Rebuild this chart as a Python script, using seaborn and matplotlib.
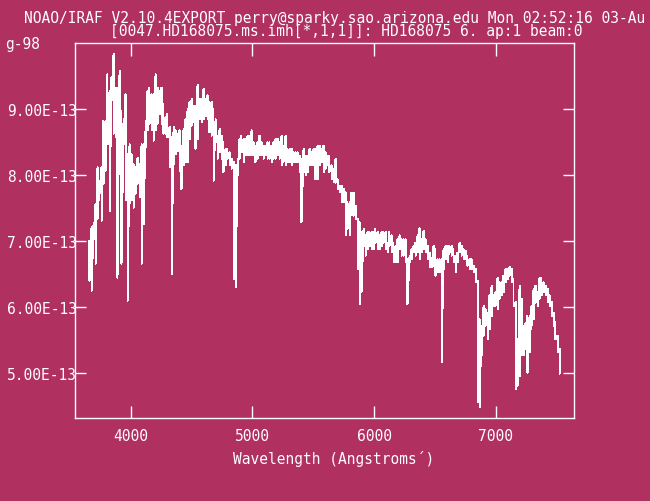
import numpy as np
import pandas as pd
import seaborn as sns
import matplotlib.pyplot as plt
from matplotlib.ticker import FormatStrFormatter

# spectrum: one column = wavelength, highest and lowest flux (1e-13 units)
wave = [
    3662, 3679, 3695, 3712, 3728, 3745, 3761, 3777, 3794, 3810,
    3827, 3843, 3860, 3876, 3892, 3909, 3925, 3942, 3958, 3975,
    3991, 4008, 4024, 4040, 4057, 4073, 4090, 4106, 4123, 4139,
    4155, 4172, 4188, 4205, 4221, 4238, 4254, 4270, 4287, 4303,
    4320, 4336, 4353, 4369, 4386, 4402, 4418, 4435, 4451, 4468,
    4484, 4501, 4517, 4533, 4550, 4566, 4583, 4599, 4616, 4632,
    4648, 4665, 4681, 4698, 4714, 4731, 4747, 4763, 4780, 4796,
    4813, 4829, 4846, 4862, 4879, 4895, 4911, 4928, 4944, 4961,
    4977, 4994, 5010, 5026, 5043, 5059, 5076, 5092, 5109, 5125,
    5141, 5158, 5174, 5191, 5207, 5224, 5240, 5256, 5273, 5289,
    5306, 5322, 5339, 5355, 5372, 5388, 5404, 5421, 5437, 5454,
    5470, 5487, 5503, 5519, 5536, 5552, 5569, 5585, 5602, 5618,
    5634, 5651, 5667, 5684, 5700, 5717, 5733, 5750, 5766, 5782,
    5799, 5815, 5832, 5848, 5865, 5881, 5897, 5914, 5930, 5947,
    5963, 5980, 5996, 6012, 6029, 6045, 6062, 6078, 6095, 6111,
    6127, 6144, 6160, 6177, 6193, 6210, 6226, 6242, 6259, 6275,
    6292, 6308, 6325, 6341, 6358, 6374, 6390, 6407, 6423, 6440,
    6456, 6473, 6489, 6505, 6522, 6538, 6555, 6571, 6588, 6604,
    6620, 6637, 6653, 6670, 6686, 6703, 6719, 6736, 6752, 6768,
    6785, 6801, 6818, 6834, 6851, 6867, 6883, 6900, 6916, 6933,
    6949, 6966, 6982, 6998, 7015, 7031, 7048, 7064, 7081, 7097,
    7114, 7130, 7146, 7163, 7179, 7196, 7212, 7229, 7245, 7261,
    7278, 7294, 7311, 7327, 7344, 7360, 7376, 7393, 7409, 7426,
    7442, 7459, 7475, 7491, 7508, 7524,
]

flux_hi = [
    7.01, 7.21, 7.24, 7.57, 8.12, 7.92, 8.12, 8.83, 8.83, 9.53,
    9.28, 9.49, 9.84, 9.33, 9.33, 9.58, 8.98, 8.85, 9.23, 8.32,
    8.47, 8.32, 8.17, 8.12, 8.27, 8.17, 8.47, 8.47, 8.73, 9.28,
    9.33, 9.23, 9.23, 9.53, 9.33, 9.28, 9.33, 9.08, 8.88, 8.93,
    8.73, 8.58, 8.73, 8.68, 8.63, 8.68, 8.45, 8.70, 8.85, 9.00,
    9.11, 9.16, 9.05, 9.05, 9.37, 9.16, 9.16, 9.31, 9.16, 9.21,
    9.11, 9.11, 9.00, 8.85, 8.60, 8.70, 8.60, 8.50, 8.40, 8.40,
    8.35, 8.25, 8.20, 8.15, 8.25, 8.55, 8.60, 8.55, 8.55, 8.60,
    8.60, 8.68, 8.50, 8.45, 8.50, 8.60, 8.50, 8.45, 8.45, 8.50,
    8.50, 8.45, 8.50, 8.55, 8.55, 8.50, 8.60, 8.45, 8.60, 8.40,
    8.40, 8.40, 8.35, 8.35, 8.35, 8.30, 8.25, 8.40, 8.30, 8.30,
    8.40, 8.35, 8.40, 8.40, 8.45, 8.45, 8.40, 8.45, 8.35, 8.30,
    8.30, 8.15, 8.10, 8.25, 7.94, 7.84, 7.84, 7.79, 7.74, 7.59,
    7.59, 7.74, 7.74, 7.54, 7.34, 7.29, 7.14, 7.19, 7.09, 7.14,
    7.14, 7.14, 7.14, 7.19, 7.14, 7.09, 7.14, 7.14, 7.14, 6.98,
    7.14, 7.09, 6.98, 6.93, 7.03, 7.09, 7.03, 7.03, 7.03, 6.73,
    6.78, 6.88, 6.93, 6.98, 7.09, 7.20, 7.03, 7.16, 7.03, 6.93,
    6.83, 6.73, 6.93, 6.88, 6.73, 6.73, 6.73, 6.88, 6.93, 6.93,
    6.93, 6.93, 6.88, 6.78, 6.83, 6.98, 6.93, 6.88, 6.86, 6.78,
    6.73, 6.73, 6.63, 6.58, 6.40, 5.82, 5.72, 6.02, 5.97, 5.92,
    6.18, 6.33, 6.18, 6.23, 6.45, 6.38, 6.38, 6.48, 6.58, 6.58,
    6.61, 6.58, 6.43, 6.08, 5.17, 6.33, 6.13, 5.72, 5.77, 5.87,
    5.87, 6.02, 6.28, 6.33, 6.23, 6.45, 6.45, 6.38, 6.33, 6.28,
    6.18, 6.08, 5.92, 5.77, 5.57, 5.37,
]

flux_lo = [
    6.40, 6.25, 7.03, 6.66, 7.34, 7.72, 7.31, 7.87, 8.07, 8.47,
    7.46, 9.13, 8.63, 8.58, 6.45, 8.58, 6.66, 8.47, 7.62, 6.10,
    7.57, 7.62, 7.51, 7.72, 7.87, 7.67, 6.66, 7.26, 8.42, 8.68,
    8.78, 8.68, 8.52, 8.68, 8.78, 8.93, 8.78, 8.63, 8.63, 8.58,
    8.12, 6.50, 8.17, 8.32, 8.37, 8.07, 7.79, 8.15, 8.20, 8.20,
    8.55, 8.75, 8.80, 8.40, 8.55, 8.85, 8.80, 8.85, 8.90, 8.85,
    8.65, 8.60, 7.92, 8.50, 8.25, 8.35, 8.25, 8.05, 8.15, 8.25,
    8.15, 8.10, 6.43, 6.30, 8.00, 8.25, 8.35, 8.20, 8.30, 8.30,
    8.30, 8.30, 8.30, 8.20, 8.25, 8.30, 8.30, 8.25, 8.30, 8.25,
    8.25, 8.20, 8.25, 8.25, 8.30, 8.25, 8.15, 8.20, 8.15, 8.20,
    8.20, 8.15, 8.20, 8.20, 8.20, 8.05, 7.29, 8.05, 8.00, 8.05,
    8.15, 8.15, 8.15, 7.94, 7.94, 8.15, 8.20, 8.05, 8.10, 8.15,
    8.05, 7.94, 7.89, 7.89, 7.79, 7.74, 7.59, 7.59, 7.09, 7.19,
    7.09, 7.39, 7.39, 7.34, 6.58, 6.05, 6.23, 6.93, 6.78, 6.88,
    6.93, 6.88, 6.88, 6.98, 6.88, 6.88, 6.93, 6.98, 6.88, 6.83,
    6.93, 6.83, 6.68, 6.68, 6.68, 6.88, 6.78, 6.78, 6.68, 6.05,
    6.68, 6.73, 6.83, 6.78, 6.83, 6.73, 6.83, 6.88, 6.83, 6.73,
    6.61, 6.61, 6.63, 6.48, 6.53, 6.53, 5.17, 6.58, 6.73, 6.68,
    6.83, 6.78, 6.68, 6.53, 6.68, 6.83, 6.78, 6.73, 6.73, 6.63,
    6.58, 6.58, 6.53, 6.38, 4.56, 4.49, 5.27, 5.57, 5.72, 5.52,
    5.67, 5.87, 6.02, 6.02, 5.97, 6.13, 6.18, 6.23, 6.38, 6.43,
    6.48, 6.38, 6.02, 4.76, 4.81, 4.96, 5.27, 5.27, 5.37, 5.01,
    5.32, 5.72, 5.82, 6.08, 6.02, 6.13, 6.18, 6.23, 6.18, 6.08,
    6.02, 5.87, 5.72, 5.52, 5.32, 4.99,
]

x_ticks = [4000, 5000, 6000, 7000]
y_ticks = [5e-13, 6e-13, 7e-13, 8e-13, 9e-13]

header_1 = "NOAO/IRAF V2.10.4EXPORT perry@sparky.sao.arizona.edu Mon 02:52:16 03-Au"
header_2 = "[0047.HD168075.ms.imh[*,1,1]]: HD168075 6. ap:1 beam:0"
header_3 = "g-98"
x_title = "Wavelength (Angstroms\u00b4)"

BG = '#B03060'
FG = 'white'
FS = 10.45

# interleave high/low of each column so the trace zigzags like the original
df = pd.DataFrame({
    'wave': np.repeat(np.array(wave, dtype=float), 2),
    'flux': np.column_stack([flux_hi, flux_lo]).ravel() * 1e-13,
})

sns.set_theme(style='ticks')
plt.rcParams['font.family'] = ['DejaVu Sans Mono']

W, H = 650, 502
fig = plt.figure(figsize=(W / 100, H / 100), dpi=100, facecolor=BG)
ax = fig.add_axes([75 / W, 1 - 419 / H, 498.5 / W, 375 / H])
ax.set_facecolor(BG)

sns.lineplot(data=df, x='wave', y='flux', sort=False, estimator=None,
             color=FG, linewidth=0.72, ax=ax)
for ln in ax.get_lines():
    ln.set_antialiased(False)

ax.set_xlim(3543, 7639)
ax.set_ylim(4.323e-13, 10.004e-13)
ax.set_xticks(x_ticks)
ax.set_yticks(y_ticks)
ax.yaxis.set_major_formatter(FormatStrFormatter('%.2E'))
ax.minorticks_off()

for sp in ax.spines.values():
    sp.set_color(FG)
    sp.set_linewidth(1.0)

ax.tick_params(axis='both', direction='in', top=True, right=True, color=FG,
               width=1.0, labelcolor=FG, labelsize=FS)
ax.tick_params(axis='x', length=9, pad=7)
ax.tick_params(axis='y', length=8, pad=-1.5)

ax.set_xlabel(x_title, color=FG, fontsize=FS, va='center')
ax.xaxis.set_label_coords((333.5 - 75) / 498.5, (419 - 459) / 375)
ax.set_ylabel('')

fig.text(24 / W, 1 - 18 / H, header_1, color=FG, fontsize=FS, ha='left', va='center')
fig.text(110 / W, 1 - 32 / H, header_2, color=FG, fontsize=FS, ha='left', va='center')
fig.text(5 / W, 1 - 45 / H, header_3, color=FG, fontsize=FS, ha='left', va='center')

fig.savefig('out.png', dpi=100, facecolor=BG)
